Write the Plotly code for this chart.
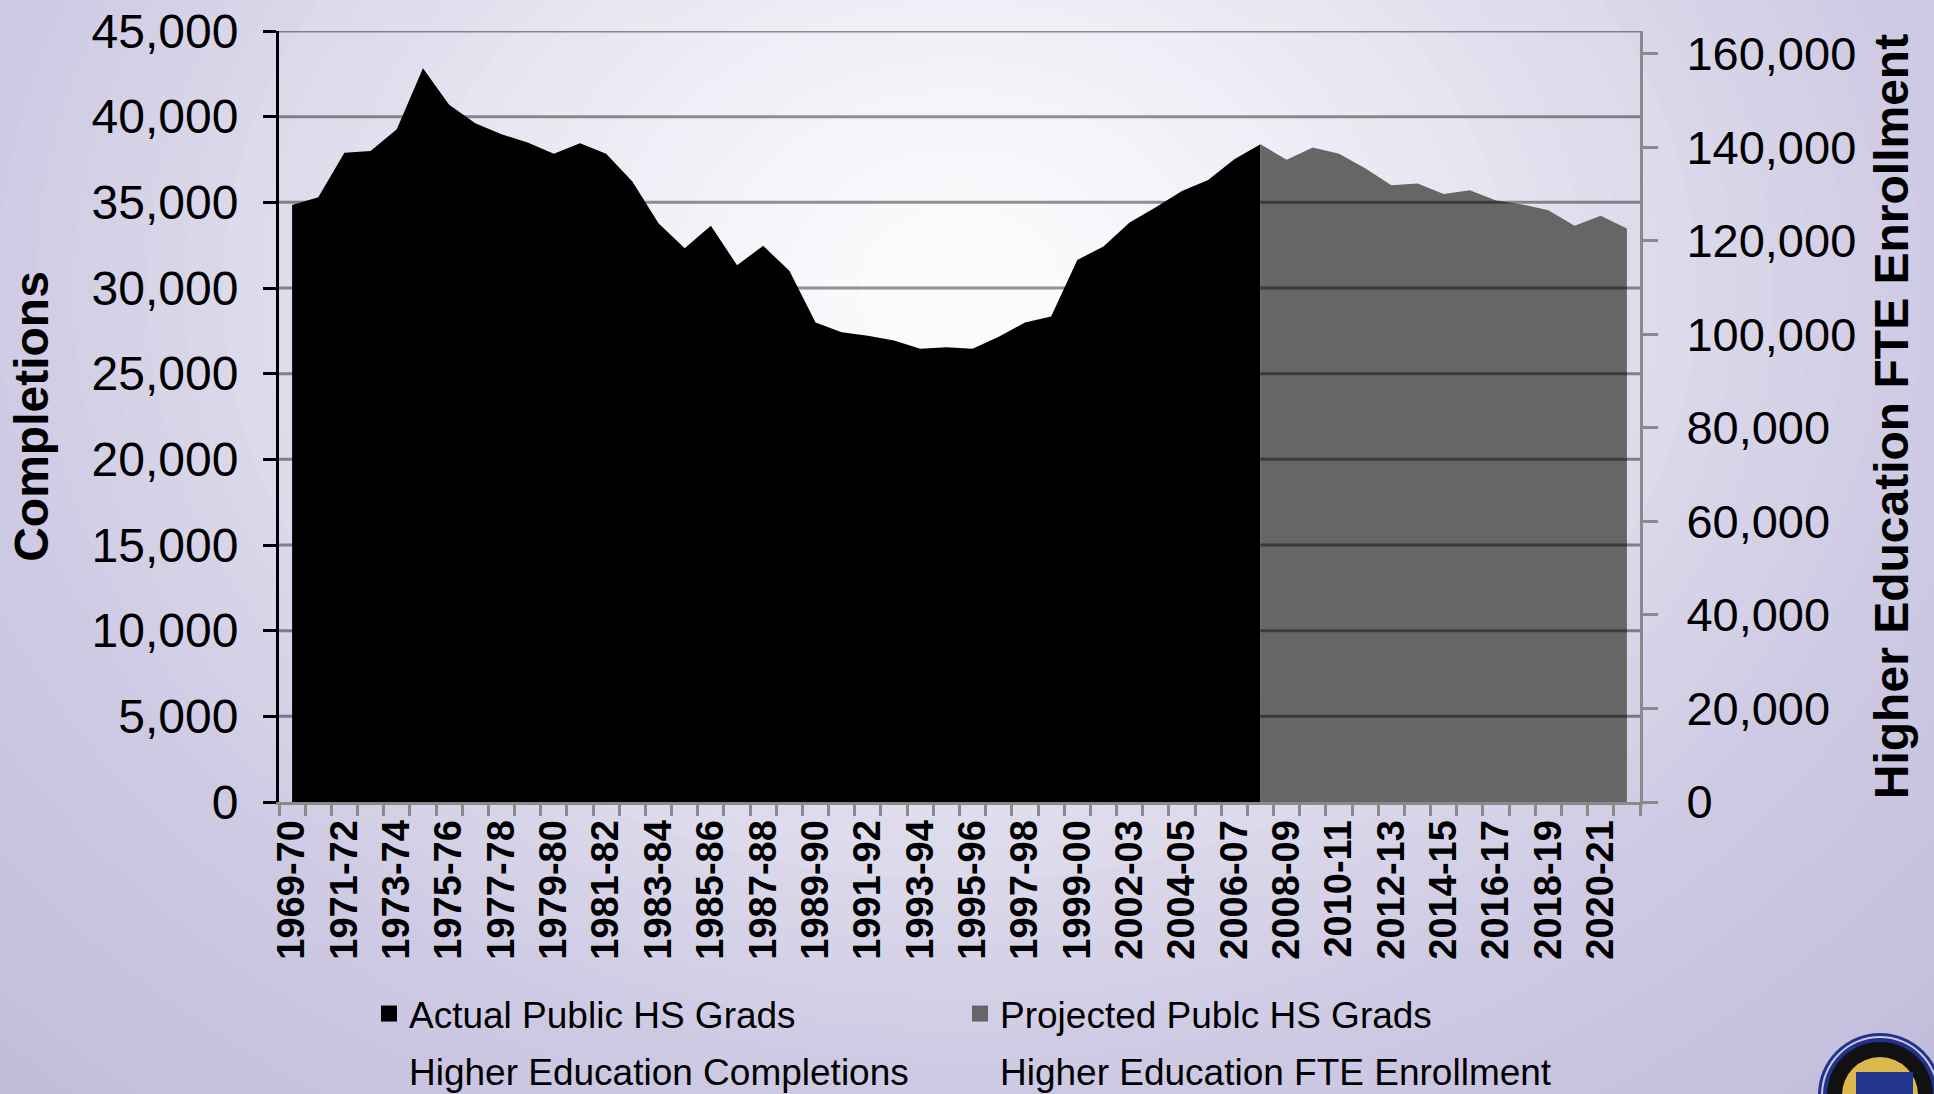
import plotly.graph_objects as go

# ---------------- data ----------------
categories = [
    "1969-70", "1970-71", "1971-72", "1972-73", "1973-74", "1974-75", "1975-76",
    "1976-77", "1977-78", "1978-79", "1979-80", "1980-81", "1981-82", "1982-83",
    "1983-84", "1984-85", "1985-86", "1986-87", "1987-88", "1988-89", "1989-90",
    "1990-91", "1991-92", "1992-93", "1993-94", "1994-95", "1995-96", "1996-97",
    "1997-98", "1998-99", "1999-00", "2000-01", "2002-03", "2003-04", "2004-05",
    "2005-06", "2006-07", "2007-08", "2008-09", "2009-10", "2010-11", "2011-12",
    "2012-13", "2013-14", "2014-15", "2015-16", "2016-17", "2017-18", "2018-19",
    "2019-20", "2020-21", "2021-22",
]

actual_categories = categories[:38]
actual_grads = [
    34850, 35300, 37900, 38000, 39270, 42830, 40690, 39620, 38980, 38490,
    37830, 38450, 37830, 36210, 33780, 32320, 33640, 31330, 32460, 31000,
    27980, 27420, 27220, 26930, 26460, 26540, 26460, 27160, 27980, 28330,
    31640, 32420, 33820, 34710, 35660, 36310, 37520, 38390,
]

projected_categories = categories[37:]
projected_grads = [
    38390, 37480, 38200, 37830, 36990, 36000, 36100, 35480, 35710, 35100,
    34880, 34540, 33630, 34220, 33470,
]

left_ticks = [0, 5000, 10000, 15000, 20000, 25000, 30000, 35000, 40000, 45000]
right_ticks = [0, 20000, 40000, 60000, 80000, 100000, 120000, 140000, 160000]
tick_text = [c if i % 2 == 0 else "" for i, c in enumerate(categories)]

# ---------------- layout constants ----------------
W, H = 1934, 1094
ML, MR, MT, MB = 279, 294, 31, 292
PW, PH = W - ML - MR, H - MT - MB
FONT = "Liberation Sans, Arial, sans-serif"


def px_to_paper(xp, yp):
    return (xp - ML) / PW, (H - MB - yp) / PH


fig = go.Figure()

fig.add_trace(go.Scatter(
    x=actual_categories, y=actual_grads, mode="none", fill="tozeroy",
    fillcolor="#000000", showlegend=False, hoverinfo="x+y",
))
fig.add_trace(go.Scatter(
    x=projected_categories, y=projected_grads, mode="none", fill="tozeroy",
    fillcolor="#666666", showlegend=False, hoverinfo="x+y",
))

# legend entries
fig.add_trace(go.Scatter(
    x=[None], y=[None], mode="markers", name="Actual Public HS Grads",
    marker=dict(symbol="square", size=16, color="#000000"), legend="legend",
))
fig.add_trace(go.Scatter(
    x=[None], y=[None], mode="markers", name="Projected Publc HS Grads",
    marker=dict(symbol="square", size=16, color="#666666"), legend="legend",
))
fig.add_trace(go.Scatter(
    x=[None], y=[None], mode="lines", name="Higher Education Completions",
    line=dict(color="rgba(0,0,0,0)", width=0), legend="legend2",
))
fig.add_trace(go.Scatter(
    x=[None], y=[None], mode="lines", name="Higher Education FTE Enrollment",
    line=dict(color="rgba(0,0,0,0)", width=0), legend="legend2", yaxis="y2",
))

# ---------------- background (gradient emulation) ----------------
shapes = []
stops = [(1250, (190, 184, 216)), (1000, (198, 193, 222)), (800, (206, 202, 228)),
         (650, (216, 213, 233)), (450, (230, 228, 240)), (250, (242, 241, 247)),
         (60, (252, 252, 254))]


def col_at(r):
    for (r1, c1), (r2, c2) in zip(stops[:-1], stops[1:]):
        if r2 <= r <= r1:
            t = (r1 - r) / (r1 - r2)
            return "rgb(%d,%d,%d)" % tuple(round(a + (b - a) * t) for a, b in zip(c1, c2))
    return "rgb(%d,%d,%d)" % stops[-1][1]


gx, gy = px_to_paper(960, 290)
r = 1250
while r >= 60:
    rx = r * 1.25
    shapes.append(dict(type="circle", xref="paper", yref="paper", xsizemode="pixel",
                       ysizemode="pixel", xanchor=gx, yanchor=gy, x0=-rx, x1=rx,
                       y0=-r, y1=r, fillcolor=col_at(r), line=dict(width=0),
                       layer="below"))
    r -= 30

# horizontal gridlines drawn above the areas (translucent: hidden on black,
# darker over the projected grey, grey over the background)
for v in left_ticks[1:]:
    shapes.append(dict(type="line", xref="paper", yref="y", x0=0, x1=1, y0=v, y1=v,
                       line=dict(color="rgba(0,0,0,0.42)", width=3), layer="above"))

# seal in bottom-right corner
sx, sy = px_to_paper(1880, 1095)
for rad, colr in [(62, "#22328c"), (59, "#c9c5e0"), (57, "#22328c"), (53, "#111111"),
                  (38, "#dcb84e")]:
    shapes.append(dict(type="circle", xref="paper", yref="paper", xsizemode="pixel",
                       ysizemode="pixel", xanchor=sx, yanchor=sy, x0=-rad, x1=rad,
                       y0=-rad, y1=rad, fillcolor=colr, line=dict(width=0),
                       layer="above"))
shapes.append(dict(type="rect", xref="paper", yref="paper", xsizemode="pixel",
                   ysizemode="pixel", xanchor=sx, yanchor=sy, x0=-24, x1=33,
                   y0=-20, y1=23, fillcolor="#21358f", line=dict(width=0),
                   layer="above"))

lx, ly1 = px_to_paper(369, 1014)
_, ly2 = px_to_paper(369, 1071)

fig.update_layout(
    width=W, height=H,
    margin=dict(l=ML, r=MR, t=MT, b=MB, autoexpand=False),
    paper_bgcolor="#b9b3d4",
    plot_bgcolor="rgba(0,0,0,0)",
    font=dict(family=FONT, color="#000000", size=37),
    shapes=shapes,
    xaxis=dict(
        type="category", categoryorder="array", categoryarray=categories,
        range=[-0.5, len(categories) - 0.5],
        tickmode="array", tickvals=categories, ticktext=tick_text,
        tickson="boundaries", ticks="outside", ticklen=11, tickwidth=3,
        tickcolor="#8a8a8a", tickangle=-90,
        tickfont=dict(family=FONT, size=38, color="#000000", weight="bold"),
        showline=True, linecolor="#8a8a8a", linewidth=3,
        showgrid=False, zeroline=False, automargin=False,
    ),
    yaxis=dict(
        range=[0, 45000], tickmode="array", tickvals=left_ticks,
        tickformat=",", ticks="outside", ticklen=13, tickwidth=3,
        tickcolor="#000000", ticklabelstandoff=15,
        tickfont=dict(family=FONT, size=48, color="#000000"),
        showline=True, linecolor="#000000", linewidth=3,
        showgrid=False, zeroline=False,
        title=dict(text="Completions", standoff=28,
                   font=dict(family=FONT, size=48, color="#000000", weight="bold")),
        automargin=False,
    ),
    yaxis2=dict(
        overlaying="y", side="right", range=[0, 164900],
        tickmode="array", tickvals=right_ticks, tickformat=",",
        ticks="outside", ticklen=15, tickwidth=3, tickcolor="#8a8a8a",
        ticklabelstandoff=19,
        tickfont=dict(family=FONT, size=47, color="#000000"),
        showline=True, linecolor="#8a8a8a", linewidth=3,
        showgrid=False, zeroline=False,
        title=dict(text="Higher Education FTE Enrollment", standoff=20,
                   font=dict(family=FONT, size=48, color="#000000", weight="bold")),
        automargin=False,
    ),
    legend=dict(
        orientation="h", x=lx, xanchor="left", y=ly1, yanchor="middle",
        entrywidth=546, entrywidthmode="pixels", bgcolor="rgba(0,0,0,0)",
        font=dict(family=FONT, size=37, color="#000000"), itemclick=False,
        tracegroupgap=0,
    ),
    legend2=dict(
        orientation="h", x=lx, xanchor="left", y=ly2, yanchor="middle",
        entrywidth=546, entrywidthmode="pixels", bgcolor="rgba(0,0,0,0)",
        font=dict(family=FONT, size=37, color="#000000"), itemclick=False,
    ),
    showlegend=True,
)

fig.write_html(
    "out.html",
    config={"displayModeBar": False},
    post_script="document.body.style.margin='0px';"
                "document.body.style.background='#b9b3d4';",
)
